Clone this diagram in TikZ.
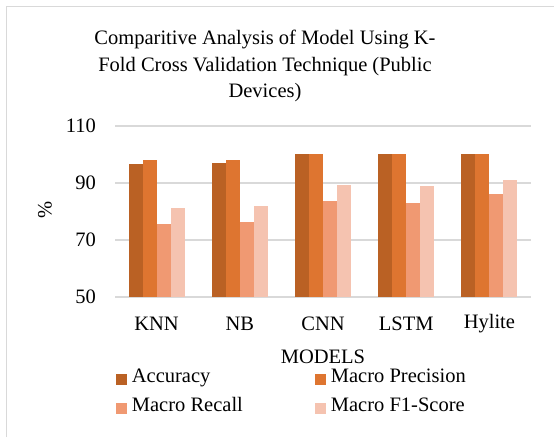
\documentclass[tikz,border=0pt]{standalone}
\usepackage{fontspec}
\setmainfont{Liberation Serif}
\usepackage{xcolor}
\usetikzlibrary{positioning}
\definecolor{accclr}{RGB}{186,97,36}
\definecolor{precclr}{RGB}{222,117,48}
\definecolor{recclr}{RGB}{240,153,114}
\definecolor{fonclr}{RGB}{245,195,176}
\definecolor{gridclr}{RGB}{217,217,217}
\tikzset{
  chartlabel/.style={font=\fontsize{20.5}{26.5}\selectfont,inner sep=0pt},
  legendtext/.style={chartlabel,text height=0.66em,text depth=0pt},
  gridline/.style={draw=gridclr,line width=1.3pt},
  legendkey/.style={minimum size=11pt,inner sep=0pt},
  barfill/.style={fill=#1}
}

\begin{document}
\begin{tikzpicture}[x=1pt,y=1pt]
  \useasboundingbox (0,0) rectangle (554,437);
  \fill[white] (0,0) rectangle (554,437);
  % frame of the chart area
  \draw[gridclr,line width=1pt] (6,0)--(6,430)--(554,430);
  \node[chartlabel,align=center] (title) at (265,371)
    {Comparitive Analysis of Model Using K-\\Fold Cross Validation Technique (Public\\Devices)};
  \begin{scope}[yshift=-2.5pt,y=2.85pt]
    \foreach \v in {50,70,90,110} {
      \draw[gridline] (115,\v)--(531,\v);
      \node[chartlabel,anchor=east] (tick\v) at (96,\v) {\v};
    }
    % bars: accuracy, precision, recall, f1
    \foreach \name/\i/\a/\p/\r/\f in {KNN/0/96.8/98.1/75.6/81.1,NB/1/97.0/98.1/76.2/81.8,
        CNN/2/100/100/83.7/89.3,LSTM/3/100/100/83.0/88.9,Hylite/4/100/100/86.1/91.2} {
      \pgfmathsetmacro{\cx}{156.6+83.2*\i}
      \fill[barfill=accclr] (\cx-28,50) rectangle (\cx-14,\a);
      \fill[barfill=precclr] (\cx-14,50) rectangle (\cx,\p);
      \fill[barfill=recclr] (\cx,50) rectangle (\cx+14,\r);
      \fill[barfill=fonclr] (\cx+14,50) rectangle (\cx+28,\f);
      \node[chartlabel] (cat\i) at (\cx,40.5) {\name};
    }
  \end{scope}
  \node[chartlabel,rotate=90] (ylab) at (45,227) {\%};
  \node[chartlabel] (xlab) at (323,80) {MODELS};
  % legend
  \node[legendkey,fill=accclr] (kacc) at (121,58) {};
  \node[legendtext,right=5pt of kacc] (tacc) {Accuracy};
  \node[legendkey,fill=precclr] (kprec) at (320,58) {};
  \node[legendtext,right=5pt of kprec] (tprec) {Macro Precision};
  \node[legendkey,fill=recclr] (krec) at (121,29) {};
  \node[legendtext,right=5pt of krec] (trec) {Macro Recall};
  \node[legendkey,fill=fonclr] (kfon) at (320,29) {};
  \node[legendtext,right=5pt of kfon] (tfon) {Macro F1-Score};
\end{tikzpicture}
\end{document}
